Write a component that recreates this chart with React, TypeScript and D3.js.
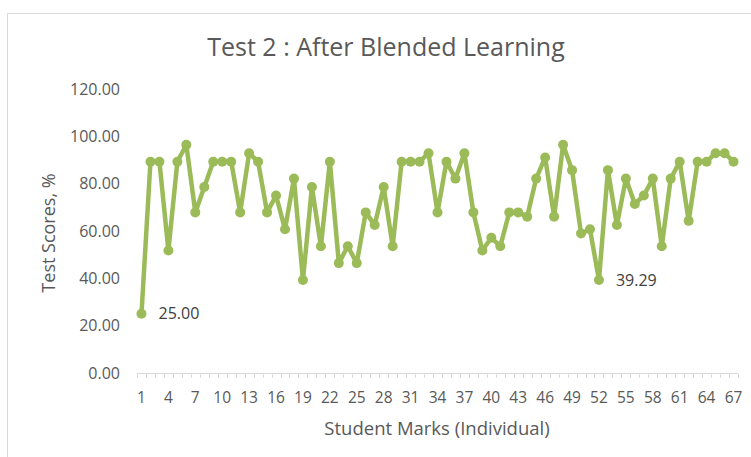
import React, { useRef, useEffect } from "react";
import * as d3 from "d3";

// student numbers 1..67
const students = d3.range(1, 68);

// test 2 scores, %
const scores = [
  25.0, 89.29, 89.29, 51.79, 89.29, 96.43, 67.86, 78.57, 89.29, 89.29,
  89.29, 67.86, 92.86, 89.29, 67.86, 75.0, 60.71, 82.14, 39.29, 78.57,
  53.57, 89.29, 46.43, 53.57, 46.43, 67.86, 62.5, 78.57, 53.57, 89.29,
  89.29, 89.29, 92.86, 67.86, 89.29, 82.14, 92.86, 67.86, 51.79, 57.14,
  53.57, 67.86, 67.86, 66.07, 82.14, 91.07, 66.07, 96.43, 85.71, 58.93,
  60.71, 39.29, 85.71, 62.5, 82.14, 71.43, 75.0, 82.14, 53.57, 82.14,
  89.29, 64.29, 89.29, 89.29, 92.86, 92.86, 89.29,
];

const yTicks = [0, 20, 40, 60, 80, 100, 120];
const xTickLabels = students.filter((d) => (d - 1) % 3 === 0);
// points that carry a data label
const labelled = [1, 52];

const width = 751;
const height = 457;
const lineColor = "#9BBB59";
const font = "'Open Sans', sans-serif";

export default function App() {
  const svgRef = useRef<SVGSVGElement>(null);

  useEffect(() => {
    const svg = d3.select(svgRef.current);
    svg.selectAll("*").remove();

    const x = d3
      .scaleBand<number>()
      .domain(students)
      .range([137, 738])
      .padding(0);
    const y = d3.scaleLinear().domain([0, 120]).range([373, 89]);
    const cx = (d: number) => (x(d) as number) + x.bandwidth() / 2;

    // chart frame
    svg
      .append("rect")
      .attr("x", 7.5)
      .attr("y", 13.5)
      .attr("width", 800)
      .attr("height", 500)
      .attr("fill", "#fff")
      .attr("stroke", "#d9d9d9");

    // title
    svg
      .append("text")
      .attr("x", 386)
      .attr("y", 56)
      .attr("text-anchor", "middle")
      .attr("font-family", font)
      .attr("font-size", 25)
      .attr("fill", "#595959")
      .text("Test 2 : After Blended Learning");

    // y tick labels
    svg
      .append("g")
      .selectAll("text")
      .data(yTicks)
      .join("text")
      .attr("x", 120)
      .attr("y", (d) => y(d))
      .attr("dy", "0.35em")
      .attr("text-anchor", "end")
      .attr("font-family", font)
      .attr("font-size", 16)
      .attr("fill", "#595959")
      .text((d) => d.toFixed(2));

    // x axis line + ticks at category boundaries
    const axis = svg.append("g");
    axis
      .append("line")
      .attr("x1", x.range()[0])
      .attr("x2", x.range()[1])
      .attr("y1", y(0) + 0.5)
      .attr("y2", y(0) + 0.5)
      .attr("stroke", "#d9d9d9")
      .attr("stroke-width", 1);
    const bounds = students.map((d) => x(d) as number).concat([x.range()[1]]);
    axis
      .selectAll("line.tick")
      .data(bounds)
      .join("line")
      .attr("class", "tick")
      .attr("x1", (d) => Math.round(d) + 0.5)
      .attr("x2", (d) => Math.round(d) + 0.5)
      .attr("y1", y(0) + 0.5)
      .attr("y2", y(0) + 5)
      .attr("stroke", "#d9d9d9");
    axis
      .selectAll("text")
      .data(xTickLabels)
      .join("text")
      .attr("x", (d) => cx(d))
      .attr("y", 398)
      .attr("dy", "0.35em")
      .attr("text-anchor", "middle")
      .attr("font-family", font)
      .attr("font-size", 15.5)
      .attr("fill", "#595959")
      .text((d) => String(d));

    // axis titles
    svg
      .append("text")
      .attr("x", 437)
      .attr("y", 429)
      .attr("dy", "0.35em")
      .attr("text-anchor", "middle")
      .attr("font-family", font)
      .attr("font-size", 18.5)
      .attr("fill", "#595959")
      .text("Student Marks (Individual)");
    svg
      .append("text")
      .attr("transform", `translate(49,233) rotate(-90)`)
      .attr("dy", "0.35em")
      .attr("text-anchor", "middle")
      .attr("font-family", font)
      .attr("font-size", 18)
      .attr("fill", "#595959")
      .text("Test Scores, %");

    // series
    const pts = students.map((s, i) => ({ s, v: scores[i] }));
    const line = d3
      .line<{ s: number; v: number }>()
      .x((d) => cx(d.s))
      .y((d) => y(d.v));
    svg
      .append("path")
      .datum(pts)
      .attr("d", line)
      .attr("fill", "none")
      .attr("stroke", lineColor)
      .attr("stroke-width", 4.5)
      .attr("stroke-linejoin", "round");
    svg
      .append("g")
      .selectAll("circle")
      .data(pts)
      .join("circle")
      .attr("cx", (d) => cx(d.s))
      .attr("cy", (d) => y(d.v))
      .attr("r", 5)
      .attr("fill", lineColor);

    // data labels
    svg
      .append("g")
      .selectAll("text")
      .data(pts.filter((d) => labelled.includes(d.s)))
      .join("text")
      .attr("x", (d) => cx(d.s) + 17)
      .attr("y", (d) => y(d.v))
      .attr("dy", "0.35em")
      .attr("font-family", font)
      .attr("font-size", 16)
      .attr("fill", "#404040")
      .text((d) => d.v.toFixed(2));
  }, []);

  return (
    <svg
      ref={svgRef}
      width={width}
      height={height}
      style={{ position: "absolute", left: 0, top: 0, background: "#fff" }}
    />
  );
}
